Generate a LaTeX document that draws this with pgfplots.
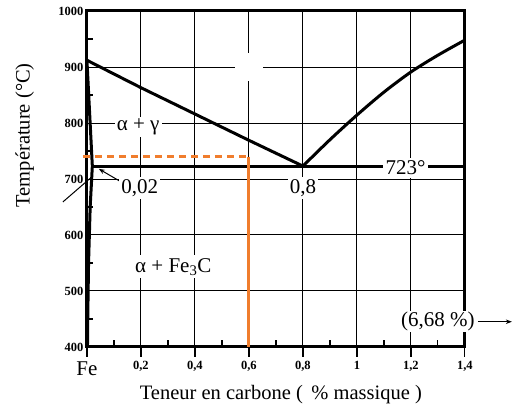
\documentclass[border=0pt]{standalone}
\usepackage{pgfplots}
\pgfplotsset{compat=1.18}
\usepackage{fontspec}
\setmainfont{Liberation Serif}
\usetikzlibrary{arrows.meta}
\definecolor{orng}{RGB}{240,125,45}
\begin{document}
\begin{tikzpicture}
\begin{axis}[
  scale only axis, width=378pt, height=336pt,
  xmin=0, xmax=1.4, ymin=400, ymax=1000,
  xtick={0,0.2,0.4,0.6,0.8,1,1.2,1.4},
  xticklabels={{\normalfont\fontsize{21}{21}\selectfont Fe},{0,2},{0,4},{0,6},{0,8},{1},{1,2},{1,4}},
  ytick={400,500,600,700,800,900,1000},
  yticklabels={400,500,600,700,800,900,1000},
  xtick pos=bottom, ytick pos=left,
  xtick align=center, ytick align=inside,
  major tick length=22pt,
  xtick style={draw=none},
  ytick style={draw=none},
  grid=major, major grid style={black, line width=0.9pt},
  axis line style={line width=3pt},
  xticklabel style={font=\bfseries\fontsize{12.5}{12.5}\selectfont},
  yticklabel style={font=\bfseries\fontsize{12.5}{12.5}\selectfont},
  xlabel={Teneur en carbone (\, \% massique )},
  ylabel={Température (°C)},
  label style={font=\fontsize{20.5}{22}\selectfont},
  xlabel style={at={(axis description cs:0.513,-0.143)}, anchor=center},
  ylabel style={at={(axis description cs:-0.165,0.63)}, anchor=center},
  clip=false,
]
\path (axis cs:-0.322,287.5) rectangle (axis cs:1.593,1019.6);
\node[fill=white, minimum size=28pt, inner sep=0pt] at (axis cs:0.6,900) {};
\draw[black, line width=3pt] (rel axis cs:0,0) rectangle (rel axis cs:1,1);
\pgfplotsinvokeforeach{0,0.2,0.4,0.6,0.8,1,1.2,1.4}{
  \draw[black, line width=1.2pt] (axis cs:#1,400) -- ([yshift=-10pt]axis cs:#1,400);
}
\pgfplotsinvokeforeach{0.1,0.3,0.5,0.7,0.9,1.1,1.3}{
  \draw[black, line width=1.2pt] (axis cs:#1,400) -- ([yshift=7pt]axis cs:#1,400);
}
\pgfplotsinvokeforeach{450,550,650,750,850,950}{
  \draw[black, line width=1.2pt] (axis cs:0,#1) -- ([xshift=6pt]axis cs:0,#1);
}
\addplot[black, line width=3pt] coordinates {(0,912)(0.2,863)(0.4,816)(0.6,769)(0.8,723)};
\addplot[black, line width=3pt, smooth] coordinates {(0.8,723)(0.9,770)(1.0,814)(1.1,855)(1.2,891)(1.3,921)(1.4,948)};
\addplot[black, line width=3pt] coordinates {(0,912)(0.02,723)(0.012,650)(0.006,550)(0.003,450)(0.002,400)};
\addplot[black, line width=3pt] coordinates {(0.02,723)(1.4,723)};
\addplot[orng, line width=3pt, dash pattern=on 7pt off 5pt] coordinates {(-0.015,740)(0.6,740)};
\addplot[orng, line width=3pt] coordinates {(0.6,740)(0.6,400)};
\addplot[black, line width=1pt] coordinates {(-0.089,659)(0.019,704)};
\addplot[black, line width=1pt, -{Stealth[length=6pt]}] coordinates {(0.122,696)(0.044,718)};
\node[fill=white, font=\fontsize{21}{21}\selectfont, inner sep=2pt] at (axis cs:0.19,793) {α + γ};
\node[fill=white, font=\fontsize{21}{21}\selectfont, inner sep=2pt] at (axis cs:0.196,684) {0,02};
\node[fill=white, font=\fontsize{21}{21}\selectfont, inner sep=2pt] at (axis cs:0.8,684) {0,8};
\node[fill=white, font=\fontsize{21}{21}\selectfont, inner sep=3pt] at (axis cs:1.18,720) {723°};
\node[fill=white, font=\fontsize{21}{21}\selectfont, inner sep=3pt] at (axis cs:0.32,543) {α + Fe\textsubscript{3}C};
\node[fill=white, font=\fontsize{21}{21}\selectfont, inner sep=1pt] at (axis cs:1.30,445) {(6,68 \%)};
\addplot[black, line width=1pt, -{Stealth[length=6pt]}] coordinates {(1.448,445)(1.574,445)};
\end{axis}
\end{tikzpicture}
\end{document}
